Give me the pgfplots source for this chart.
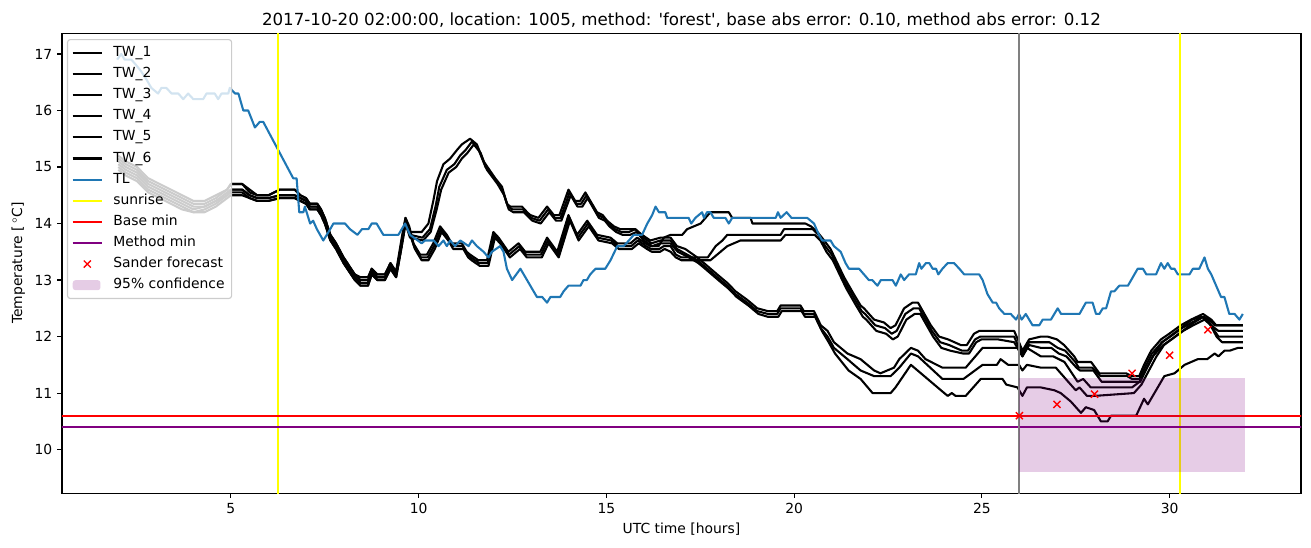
\documentclass[border=0pt]{standalone}
\usepackage{fontspec}
\setmainfont{DejaVu Sans}
\usepackage{pgfplots}
\pgfplotsset{compat=1.18}
\definecolor{tabblue}{HTML}{1F77B4}
\definecolor{mplpurple}{HTML}{800080}
\definecolor{mplred}{HTML}{FF0000}
\definecolor{mplyellow}{HTML}{FFFF00}
\definecolor{mplgray}{HTML}{808080}
\definecolor{legendgray}{HTML}{CCCCCC}
\pgfplotsset{
  linelegend/.style={legend image code/.code={\draw[##1] (0pt,0pt) -- (21pt,0pt);}},
  marklegend/.style={legend image code/.code={\draw[##1,only marks] plot coordinates {(10.5pt,0pt)};}},
  arealegend/.style={legend image code/.code={\fill[##1] (0pt,-3.6pt) rectangle (20pt,3.6pt);}},
}
\begin{document}
\fontsize{10}{12}\selectfont
\begin{tikzpicture}
\useasboundingbox (-44.6pt,-38.9pt) rectangle (899.2pt,355pt);
\begin{axis}[
  scale only axis, width=892pt, height=331.2pt,
  xmin=0.5, xmax=33.5, ymin=9.23, ymax=17.37,
  xtick={5,10,...,30}, ytick={10,11,...,17},
  tick pos=left, tick align=outside,
  major tick length=3.5pt,
  every tick/.style={black, line width=0.8pt},
  axis line style={line width=0.8pt},
  /pgf/number format/assume math mode=true,
  ticklabel style={font=\fontsize{10}{12}\selectfont},
  xlabel={UTC time [hours]},
  ylabel={Temperature [\,$^\circ$C]},
  label style={font=\fontsize{10}{12}\selectfont},
  title={2017-10-20 02:00:00, location: 1005, method: \textquotesingle forest\textquotesingle, base abs error: 0.10, method abs error: 0.12},
  title style={font=\fontsize{12}{14}\selectfont, at={(0.5,1)}, anchor=south, yshift=-2pt, inner sep=0pt},
  legend cell align=left,
  legend style={at={(0,1)}, anchor=north west, xshift=3.6pt, yshift=-4.3pt,
    fill=white, fill opacity=0.8, draw opacity=1, text opacity=1,
    draw=legendgray, line width=0.8pt, rounded corners=2pt,
    font=\fontsize{10}{12}\selectfont, inner xsep=3pt, inner ysep=2pt,
    row sep=0pt,
    nodes={inner sep=0pt, text height=7.6pt, text depth=2.4pt, inner ysep=2.6pt, inner xsep=2pt},
    /tikz/every odd column/.append style={column sep=5.5pt}},
  every axis plot/.append style={line width=1.5pt, line join=round, linelegend},
]
% TW_1
\addplot[black] coordinates {
(2.0,15.2)(2.2,15.1)(2.5,15.0)(2.8,14.8)(3.1,14.7)(3.4,14.6)(3.7,14.5)(4.0,14.4)(4.3,14.4)(4.6,14.5)(4.9,14.6)(5.0,14.7)(5.3,14.7)(5.5,14.6)(5.7,14.5)(6.0,14.5)(6.3,14.6)(6.7,14.6)(6.85,14.5)(7.0,14.45)(7.1,14.35)(7.3,14.35)(7.4,14.25)(7.5,14.1)(7.65,13.8)(7.8,13.65)(8.0,13.4)(8.2,13.2)(8.3,13.1)(8.45,13.05)(8.65,13.05)(8.75,13.2)(8.9,13.1)(9.1,13.1)(9.25,13.3)(9.4,13.15)(9.55,13.75)(9.65,14.1)(9.77,13.85)(10.08,13.85)(10.26,14.0)(10.39,14.4)(10.49,14.75)(10.66,15.05)(10.84,15.15)(11.02,15.3)(11.15,15.4)(11.37,15.5)(11.55,15.4)(11.73,15.1)(12.04,14.8)(12.22,14.65)(12.35,14.35)(12.44,14.3)(12.75,14.3)(12.89,14.2)(12.97,14.15)(13.19,14.1)(13.42,14.3)(13.6,14.15)(13.75,14.15)(13.99,14.6)(14.17,14.4)(14.3,14.4)(14.44,14.55)(14.75,14.2)(14.9,14.15)(15.02,14.05)(15.2,13.95)(15.37,13.9)(15.6,13.9)(15.77,13.9)(15.95,13.8)(16.17,13.7)(16.44,13.75)(16.71,13.75)(16.88,13.6)(17.1,13.55)(17.42,13.4)(17.6,13.3)(17.95,13.1)(18.22,12.95)(18.44,12.8)(18.75,12.65)(19.02,12.5)(19.3,12.45)(19.55,12.45)(19.64,12.55)(20.17,12.55)(20.26,12.45)(20.53,12.45)(20.71,12.2)(20.89,12.1)(21.06,11.9)(21.24,11.8)(21.42,11.7)(21.77,11.6)(21.95,11.5)(22.13,11.4)(22.3,11.35)(22.66,11.45)(22.8,11.6)(23.11,11.8)(23.3,11.75)(23.5,11.6)(23.95,11.45)(24.57,11.45)(25.02,11.8)(25.99,11.8)(26.08,11.65)(26.2,11.8)(26.57,11.65)(26.9,11.65)(27.2,11.55)(27.4,11.35)(27.55,11.2)(27.7,11.25)(27.9,11.1)(28.1,11.1)(29.0,11.1)(29.2,11.2)(29.4,11.45)(29.6,11.7)(29.8,11.9)(30.0,12.0)(30.3,12.15)(30.6,12.3)(30.85,12.35)(31.0,12.3)(31.2,12.1)(31.3,12.0)(31.95,12.0)
};
\addlegendentry{TW\_1}
% TW_2
\addplot[black] coordinates {
(2.0,15.15)(2.2,15.05)(2.5,14.95)(2.8,14.75)(3.1,14.65)(3.4,14.55)(3.7,14.45)(4.0,14.35)(4.3,14.35)(4.6,14.45)(4.9,14.6)(5.0,14.7)(5.3,14.7)(5.5,14.55)(5.7,14.5)(6.0,14.5)(6.3,14.6)(6.7,14.6)(6.85,14.5)(7.0,14.45)(7.1,14.35)(7.3,14.35)(7.4,14.25)(7.5,14.1)(7.65,13.8)(7.8,13.65)(8.0,13.4)(8.2,13.2)(8.3,13.1)(8.45,13.0)(8.65,13.0)(8.75,13.2)(8.9,13.1)(9.1,13.1)(9.25,13.3)(9.4,13.1)(9.55,13.7)(9.65,14.1)(9.75,13.95)(9.86,13.65)(10.04,13.45)(10.22,13.45)(10.39,13.65)(10.57,13.95)(10.75,13.8)(10.88,13.65)(11.15,13.65)(11.28,13.5)(11.37,13.45)(11.59,13.35)(11.82,13.35)(11.99,13.85)(12.13,13.75)(12.39,13.5)(12.66,13.65)(12.84,13.5)(13.24,13.5)(13.42,13.75)(13.69,13.5)(13.99,14.15)(14.22,13.8)(14.49,14.05)(14.75,13.8)(15.11,13.75)(15.29,13.65)(15.64,13.65)(15.82,13.75)(16.04,13.65)(16.17,13.6)(16.39,13.6)(16.53,13.75)(16.71,13.8)(17.02,13.8)(17.15,13.9)(17.51,14.0)(17.77,14.2)(18.26,14.2)(18.35,14.1)(18.84,14.1)(18.89,14.0)(20.3,14.0)(20.45,13.95)(20.62,13.85)(20.8,13.7)(20.97,13.55)(21.15,13.3)(21.33,13.05)(21.59,12.75)(21.77,12.55)(21.86,12.5)(22.13,12.3)(22.39,12.25)(22.57,12.15)(22.7,12.2)(22.93,12.5)(23.15,12.6)(23.3,12.6)(23.64,12.2)(23.86,12.0)(24.1,11.95)(24.44,11.85)(24.6,11.85)(24.79,12.05)(24.93,12.1)(25.37,12.1)(25.86,12.1)(25.99,11.9)(26.08,11.75)(26.26,11.95)(26.57,12.0)(26.75,12.0)(27.0,11.95)(27.19,11.85)(27.46,11.65)(27.55,11.55)(27.91,11.55)(28.13,11.35)(28.84,11.35)(29.0,11.3)(29.19,11.3)(29.32,11.5)(29.51,11.75)(29.77,11.95)(29.99,12.05)(30.3,12.2)(30.57,12.3)(30.89,12.4)(31.11,12.3)(31.24,12.2)(31.95,12.2)
};
\addlegendentry{TW\_2}
% TW_3
\addplot[black] coordinates {
(2.0,15.1)(2.2,15.0)(2.5,14.9)(2.8,14.7)(3.1,14.6)(3.4,14.5)(3.7,14.4)(4.0,14.3)(4.3,14.3)(4.6,14.4)(4.9,14.55)(5.0,14.6)(5.3,14.6)(5.5,14.5)(5.7,14.45)(6.0,14.45)(6.3,14.5)(6.7,14.5)(6.85,14.45)(7.0,14.4)(7.1,14.3)(7.3,14.3)(7.4,14.2)(7.5,14.05)(7.65,13.75)(7.8,13.6)(8.0,13.35)(8.2,13.15)(8.3,13.05)(8.45,12.95)(8.65,12.95)(8.75,13.15)(8.9,13.05)(9.1,13.05)(9.25,13.25)(9.4,13.1)(9.55,13.65)(9.65,14.05)(9.77,13.8)(10.1,13.75)(10.3,13.9)(10.45,14.3)(10.55,14.65)(10.75,14.95)(10.95,15.05)(11.1,15.2)(11.25,15.3)(11.42,15.45)(11.6,15.3)(11.78,15.0)(12.08,14.75)(12.25,14.55)(12.38,14.3)(12.5,14.25)(12.78,14.25)(12.93,14.15)(13.0,14.1)(13.22,14.05)(13.45,14.25)(13.63,14.1)(13.78,14.1)(14.02,14.55)(14.2,14.35)(14.33,14.35)(14.47,14.5)(14.78,14.15)(14.93,14.1)(15.05,14.0)(15.23,13.9)(15.4,13.85)(15.6,13.85)(15.77,13.9)(15.98,13.75)(16.2,13.65)(16.44,13.7)(16.71,13.7)(16.88,13.55)(17.15,13.45)(17.42,13.35)(17.6,13.25)(17.95,13.05)(18.22,12.9)(18.44,12.75)(18.75,12.6)(19.02,12.45)(19.3,12.4)(19.55,12.4)(19.64,12.5)(20.17,12.5)(20.26,12.4)(20.53,12.4)(20.71,12.15)(20.89,12.0)(21.06,11.8)(21.24,11.7)(21.42,11.6)(21.77,11.4)(22.13,11.3)(22.57,11.3)(22.8,11.45)(23.11,11.7)(23.3,11.65)(23.95,11.25)(24.51,11.25)(25.02,11.5)(25.4,11.5)(25.5,11.6)(25.7,11.5)(25.99,11.5)(26.08,11.4)(26.2,11.5)(26.57,11.45)(26.97,11.45)(27.3,11.2)(27.5,11.05)(27.6,11.1)(27.8,10.95)(28.0,10.95)(29.05,11.0)(29.25,11.15)(29.45,11.4)(29.65,11.65)(29.85,11.85)(30.05,11.95)(30.35,12.1)(30.65,12.25)(30.9,12.35)(31.05,12.25)(31.25,12.0)(31.4,11.9)(31.95,11.9)
};
\addlegendentry{TW\_3}
% TW_4
\addplot[black] coordinates {
(2.0,15.05)(2.2,14.95)(2.5,14.85)(2.8,14.65)(3.1,14.55)(3.4,14.45)(3.7,14.35)(4.0,14.25)(4.3,14.3)(4.6,14.4)(4.9,14.5)(5.0,14.6)(5.3,14.6)(5.5,14.5)(5.7,14.45)(6.0,14.45)(6.3,14.5)(6.7,14.5)(6.85,14.45)(7.0,14.4)(7.1,14.3)(7.3,14.3)(7.4,14.2)(7.5,14.05)(7.65,13.75)(7.8,13.6)(8.0,13.35)(8.2,13.15)(8.3,13.05)(8.45,12.95)(8.65,12.95)(8.75,13.15)(8.9,13.05)(9.1,13.05)(9.25,13.25)(9.4,13.1)(9.55,13.65)(9.65,14.05)(9.75,13.9)(9.88,13.6)(10.06,13.4)(10.24,13.4)(10.41,13.6)(10.59,13.9)(10.77,13.75)(10.9,13.6)(11.17,13.6)(11.3,13.45)(11.39,13.4)(11.61,13.3)(11.84,13.3)(12.01,13.8)(12.15,13.7)(12.41,13.45)(12.68,13.6)(12.86,13.45)(13.26,13.45)(13.44,13.7)(13.71,13.45)(14.01,14.1)(14.24,13.75)(14.51,14.0)(14.77,13.75)(15.13,13.7)(15.31,13.6)(15.66,13.6)(15.84,13.7)(16.06,13.6)(16.19,13.55)(16.41,13.55)(16.53,13.6)(16.71,13.6)(16.85,13.45)(17.0,13.4)(17.7,13.4)(17.91,13.6)(18.09,13.7)(18.22,13.8)(19.64,13.8)(19.73,13.9)(20.4,13.9)(20.5,13.9)(20.65,13.8)(20.83,13.6)(21.0,13.45)(21.18,13.2)(21.36,12.95)(21.62,12.65)(21.8,12.45)(21.89,12.4)(22.16,12.2)(22.42,12.15)(22.6,12.05)(22.73,12.1)(22.96,12.4)(23.18,12.5)(23.33,12.5)(23.67,12.1)(23.89,11.9)(24.13,11.85)(24.47,11.75)(24.63,11.75)(24.82,11.95)(24.96,12.0)(25.4,12.0)(25.86,12.0)(25.99,11.8)(26.08,11.7)(26.26,11.9)(26.57,11.9)(26.8,11.9)(27.02,11.8)(27.22,11.75)(27.49,11.55)(27.58,11.45)(27.94,11.45)(28.16,11.3)(28.87,11.3)(29.0,11.25)(29.2,11.25)(29.34,11.45)(29.53,11.7)(29.8,11.9)(30.02,12.0)(30.33,12.15)(30.6,12.25)(30.9,12.35)(31.05,12.3)(31.2,12.2)(31.95,12.2)
};
\addlegendentry{TW\_4}
% TW_5
\addplot[black] coordinates {
(2.0,15.0)(2.2,14.9)(2.5,14.8)(2.8,14.6)(3.1,14.5)(3.4,14.4)(3.7,14.3)(4.0,14.2)(4.3,14.25)(4.6,14.35)(4.9,14.5)(5.0,14.55)(5.3,14.55)(5.5,14.45)(5.7,14.4)(6.0,14.4)(6.3,14.45)(6.7,14.45)(6.85,14.4)(7.0,14.35)(7.1,14.25)(7.3,14.25)(7.4,14.15)(7.5,14.0)(7.65,13.7)(7.8,13.55)(8.0,13.3)(8.2,13.1)(8.3,13.0)(8.45,12.9)(8.65,12.9)(8.75,13.1)(8.9,13.0)(9.1,13.0)(9.25,13.2)(9.4,13.05)(9.55,13.6)(9.65,14.0)(9.77,13.75)(10.12,13.7)(10.32,13.85)(10.48,14.25)(10.6,14.6)(10.8,14.9)(11.0,15.0)(11.15,15.15)(11.3,15.25)(11.47,15.4)(11.65,15.25)(11.82,14.95)(12.1,14.7)(12.28,14.5)(12.4,14.25)(12.52,14.2)(12.8,14.2)(12.95,14.1)(13.03,14.05)(13.25,14.0)(13.48,14.2)(13.66,14.05)(13.8,14.05)(14.05,14.5)(14.23,14.3)(14.36,14.3)(14.5,14.45)(14.8,14.1)(14.96,14.05)(15.08,13.95)(15.26,13.85)(15.43,13.8)(15.63,13.8)(15.8,13.85)(16.0,13.7)(16.22,13.6)(16.44,13.65)(16.71,13.65)(16.9,13.5)(17.2,13.4)(17.45,13.3)(17.63,13.2)(17.98,13.0)(18.25,12.85)(18.47,12.7)(18.78,12.55)(19.05,12.4)(19.3,12.35)(19.58,12.35)(19.67,12.45)(20.2,12.45)(20.29,12.35)(20.56,12.35)(20.74,12.1)(20.92,11.9)(21.09,11.7)(21.27,11.55)(21.45,11.4)(21.77,11.25)(22.09,11.0)(22.57,11.0)(22.7,11.1)(23.11,11.5)(23.91,11.05)(24.09,10.95)(24.2,11.0)(24.3,10.95)(24.57,10.95)(24.97,11.25)(25.55,11.25)(25.65,11.15)(25.95,11.1)(26.08,10.95)(26.2,11.1)(26.57,11.1)(26.93,11.05)(27.1,11.0)(27.37,10.85)(27.64,10.65)(27.77,10.75)(27.99,10.7)(28.17,10.5)(28.35,10.5)(28.44,10.6)(29.11,10.6)(29.32,10.9)(29.42,10.8)(29.86,11.3)(30.13,11.35)(30.4,11.5)(30.75,11.6)(31.0,11.6)(31.2,11.7)(31.3,11.65)(31.46,11.75)(31.6,11.75)(31.82,11.8)(31.95,11.8)
};
\addlegendentry{TW\_5}
% TW_6
\addplot[black] coordinates {
(2.0,14.95)(2.2,14.85)(2.5,14.75)(2.8,14.55)(3.1,14.45)(3.4,14.35)(3.7,14.25)(4.0,14.2)(4.3,14.2)(4.6,14.3)(4.9,14.45)(5.0,14.5)(5.3,14.5)(5.5,14.45)(5.7,14.4)(6.0,14.4)(6.3,14.45)(6.7,14.45)(6.85,14.4)(7.0,14.35)(7.1,14.25)(7.3,14.25)(7.4,14.15)(7.5,14.0)(7.65,13.7)(7.8,13.55)(8.0,13.3)(8.2,13.1)(8.3,13.0)(8.45,12.9)(8.65,12.9)(8.75,13.1)(8.9,13.0)(9.1,13.0)(9.25,13.2)(9.4,13.05)(9.55,13.6)(9.65,14.0)(9.75,13.85)(9.9,13.55)(10.08,13.35)(10.26,13.35)(10.43,13.55)(10.61,13.85)(10.79,13.7)(10.92,13.55)(11.19,13.55)(11.32,13.4)(11.41,13.35)(11.63,13.25)(11.86,13.25)(12.03,13.75)(12.17,13.65)(12.43,13.4)(12.7,13.55)(12.88,13.4)(13.28,13.4)(13.46,13.65)(13.73,13.4)(14.03,14.05)(14.26,13.7)(14.53,13.95)(14.79,13.7)(15.15,13.65)(15.33,13.55)(15.68,13.55)(15.86,13.65)(16.08,13.55)(16.21,13.5)(16.43,13.5)(16.55,13.55)(16.71,13.5)(16.85,13.4)(17.0,13.35)(17.77,13.35)(17.95,13.45)(18.13,13.55)(18.22,13.6)(18.57,13.7)(19.64,13.7)(19.77,13.8)(20.4,13.8)(20.55,13.8)(20.7,13.7)(20.86,13.5)(21.03,13.35)(21.21,13.1)(21.39,12.85)(21.65,12.55)(21.83,12.35)(21.92,12.3)(22.19,12.1)(22.45,12.05)(22.63,11.95)(22.76,12.0)(22.99,12.3)(23.21,12.4)(23.36,12.4)(23.7,12.0)(23.92,11.8)(24.16,11.75)(24.5,11.7)(24.66,11.7)(24.85,11.9)(24.99,11.95)(25.43,11.95)(25.86,11.9)(25.99,11.75)(26.08,11.65)(26.26,11.85)(26.57,11.8)(26.85,11.8)(27.05,11.7)(27.25,11.65)(27.52,11.45)(27.61,11.4)(27.97,11.4)(28.19,11.2)(28.9,11.2)(29.05,11.2)(29.22,11.2)(29.36,11.4)(29.55,11.65)(29.83,11.85)(30.05,11.95)(30.36,12.1)(30.63,12.2)(30.93,12.3)(31.1,12.2)(31.3,12.1)(31.95,12.1)
};
\addlegendentry{TW\_6}
% TL
\addplot[tabblue] coordinates {
(1.97,16.9)(2.08,17.0)(2.17,16.9)(2.35,16.9)(2.48,16.8)(2.6,16.7)(2.75,16.55)(2.88,16.4)(3.06,16.3)(3.15,16.4)(3.28,16.4)(3.42,16.3)(3.6,16.3)(3.73,16.2)(3.86,16.3)(4.0,16.2)(4.26,16.2)(4.35,16.3)(4.57,16.3)(4.66,16.2)(4.75,16.3)(4.93,16.3)(4.97,16.4)(5.11,16.3)(5.2,16.3)(5.33,16.0)(5.46,16.0)(5.64,15.7)(5.77,15.8)(5.86,15.8)(6.66,14.8)(6.75,14.8)(6.82,14.2)(6.93,14.2)(6.97,14.3)(7.11,14.0)(7.19,14.05)(7.29,13.9)(7.46,13.7)(7.6,13.85)(7.73,14.0)(8.04,14.0)(8.17,13.9)(8.37,13.8)(8.49,13.9)(8.66,13.9)(8.75,14.0)(8.88,14.0)(9.06,13.8)(9.46,13.8)(9.64,14.0)(9.77,13.8)(10.08,13.65)(10.17,13.7)(10.4,13.7)(10.53,13.6)(10.66,13.7)(10.75,13.6)(10.84,13.7)(10.97,13.6)(11.11,13.7)(11.33,13.6)(11.42,13.7)(11.55,13.6)(11.73,13.5)(11.86,13.4)(11.95,13.5)(12.17,13.6)(12.26,13.5)(12.35,13.2)(12.49,13.0)(12.71,13.2)(13.15,12.7)(13.29,12.7)(13.42,12.6)(13.51,12.7)(13.77,12.7)(13.86,12.8)(13.99,12.9)(14.31,12.9)(14.39,13.0)(14.48,13.0)(14.57,13.1)(14.71,13.2)(14.97,13.2)(15.11,13.35)(15.29,13.6)(15.46,13.6)(15.6,13.7)(15.73,13.8)(15.95,13.8)(16.09,14.0)(16.22,14.15)(16.31,14.3)(16.4,14.2)(16.57,14.2)(16.62,14.1)(17.19,14.1)(17.26,14.0)(17.37,14.1)(17.55,14.2)(17.6,14.1)(17.68,14.2)(17.77,14.2)(17.86,14.1)(18.17,14.1)(18.26,14.0)(18.35,14.1)(19.51,14.1)(19.57,14.2)(19.64,14.1)(19.8,14.2)(19.93,14.1)(20.35,14.1)(20.53,14.0)(20.66,13.8)(20.75,13.7)(20.97,13.7)(21.06,13.6)(21.24,13.5)(21.37,13.3)(21.46,13.2)(21.73,13.2)(21.86,13.1)(21.99,13.0)(22.08,13.0)(22.22,12.9)(22.31,13.0)(22.62,13.0)(22.71,12.9)(22.84,13.1)(22.93,13.0)(23.06,13.1)(23.24,13.1)(23.33,13.3)(23.39,13.2)(23.51,13.3)(23.6,13.3)(23.69,13.2)(23.78,13.2)(23.84,13.1)(23.95,13.2)(24.09,13.3)(24.26,13.3)(24.4,13.2)(24.53,13.1)(24.93,13.1)(25.02,13.0)(25.15,12.75)(25.29,12.6)(25.38,12.6)(25.46,12.5)(25.6,12.4)(25.77,12.4)(25.91,12.3)(25.99,12.4)(26.06,12.3)(26.17,12.4)(26.35,12.2)(26.53,12.2)(26.62,12.3)(26.84,12.3)(27.02,12.5)(27.11,12.4)(27.6,12.4)(27.77,12.6)(27.95,12.6)(28.04,12.4)(28.13,12.4)(28.22,12.5)(28.31,12.5)(28.44,12.8)(28.53,12.8)(28.66,12.9)(28.89,12.9)(29.15,13.2)(29.29,13.2)(29.38,13.1)(29.64,13.1)(29.77,13.3)(29.86,13.2)(29.95,13.3)(30.04,13.2)(30.13,13.2)(30.22,13.1)(30.53,13.1)(30.62,13.2)(30.79,13.2)(30.93,13.4)(31.02,13.2)(31.11,13.1)(31.24,12.9)(31.37,12.7)(31.46,12.7)(31.59,12.4)(31.73,12.4)(31.86,12.3)(31.95,12.4)
};
\addlegendentry{TL}
% sunrise
\addplot[mplyellow] coordinates {(6.25,8) (6.25,18)};
\addlegendentry{sunrise}
\addplot[mplyellow, forget plot] coordinates {(30.27,8) (30.27,18)};
% base / method min
\addplot[mplred] coordinates {(0,10.6) (35,10.6)};
\addlegendentry{Base min}
\addplot[mplpurple] coordinates {(0,10.4) (35,10.4)};
\addlegendentry{Method min}
% forecast time
\addplot[mplgray, forget plot] coordinates {(26,8) (26,18)};
% Sander forecast
\addplot[mplred, only marks, mark=x, mark size=3.6pt, mark options={line width=1pt}, marklegend] coordinates {
(26,10.6)(27,10.8)(28,10.98)(29,11.35)(30,11.67)(31.02,12.12)
};
\addlegendentry{Sander forecast}
% 95% confidence
\addplot[draw=none, fill=mplpurple, fill opacity=0.2, arealegend] coordinates {
(26,9.6)(32,9.6)(32,11.26)(26,11.26)
} -- cycle;
\addlegendentry{95\% confidence}
\end{axis}
\end{tikzpicture}
\end{document}
